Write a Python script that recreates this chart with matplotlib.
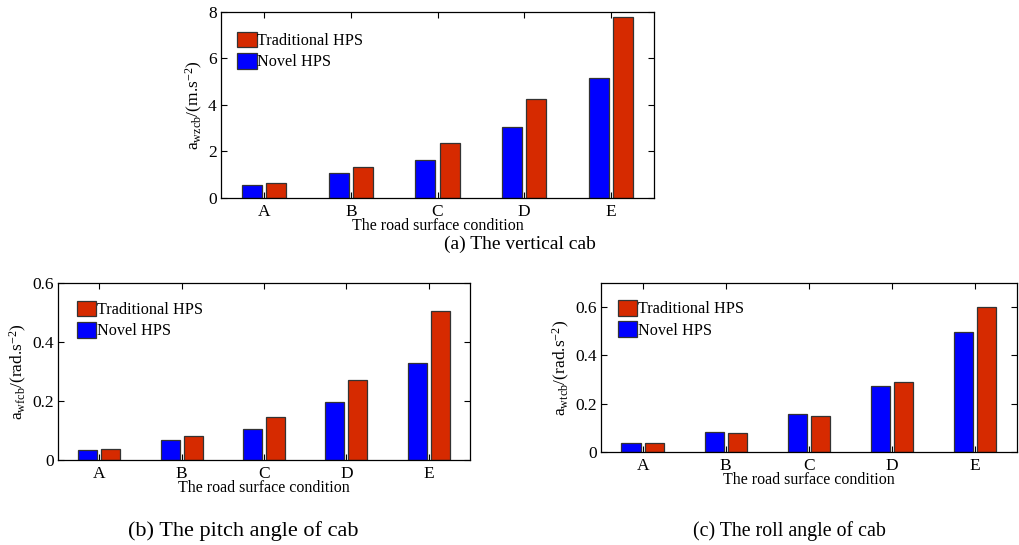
import numpy as np
import matplotlib
matplotlib.use("Agg")
import matplotlib.pyplot as plt

# === DATA ===
conditions = ["A", "B", "C", "D", "E"]
series_names = ["Traditional HPS", "Novel HPS"]

vertical_trad = [0.63, 1.32, 2.35, 4.25, 7.80]
vertical_novel = [0.54, 1.08, 1.63, 3.04, 5.18]

pitch_trad = [0.038, 0.080, 0.147, 0.272, 0.504]
pitch_novel = [0.034, 0.068, 0.106, 0.196, 0.329]

roll_trad = [0.038, 0.079, 0.148, 0.290, 0.601]
roll_novel = [0.039, 0.083, 0.159, 0.272, 0.496]

# === STYLE ===
plt.rcParams['font.family'] = ['Liberation Serif', 'DejaVu Serif']
plt.rcParams['mathtext.fontset'] = 'custom'
plt.rcParams['mathtext.rm'] = 'Liberation Serif'
plt.rcParams['mathtext.it'] = 'Liberation Serif:italic'
red = '#d62a00'
blue = '#0000ff'
edge = '#333333'
tick_fs = 12.5
leg_fs = 11.7
xl_fs = 11.5
yl_fs = 12.5


def draw(ax, trad, novel, ylim, yticks, yticklabels, ylabel, leg_x, leg_y):
    x = np.arange(1, len(conditions) + 1)
    w = 0.23
    ax.bar(x - 0.14, novel, w, color=blue, edgecolor=edge, linewidth=0.9,
           label=series_names[1])
    ax.bar(x + 0.14, trad, w, color=red, edgecolor=edge, linewidth=0.9,
           label=series_names[0])
    ax.set_xlim(0.5, 5.5)
    ax.set_ylim(*ylim)
    ax.set_xticks(x)
    ax.set_xticklabels(conditions, fontsize=tick_fs)
    ax.set_yticks(yticks)
    ax.set_yticklabels(yticklabels, fontsize=tick_fs)
    ax.tick_params(direction='in', top=True, right=True, length=4)
    ax.tick_params(axis='x', pad=4)
    ax.tick_params(axis='y', pad=3)
    ax.set_xlabel("The road surface condition", fontsize=xl_fs, labelpad=-1)
    ax.set_ylabel(ylabel, fontsize=yl_fs, labelpad=2)
    h, l = ax.get_legend_handles_labels()
    ax.legend(h[::-1], l[::-1], loc='upper left', bbox_to_anchor=(leg_x, leg_y),
              frameon=False, fontsize=leg_fs, handlelength=1.2, handleheight=1.1,
              handletextpad=0.05, labelspacing=0.25, borderpad=0, borderaxespad=0)
    for s in ax.spines.values():
        s.set_linewidth(0.9)


fig = plt.figure(figsize=(10.19, 5.45), dpi=100)

ax1 = fig.add_axes([0.2169, 0.6367, 0.4249, 0.3413])
draw(ax1, vertical_trad, vertical_novel, (0, 8), [0, 2, 4, 6, 8],
     ["0", "2", "4", "6", "8"], r"a$_{\rm wzcb}$/(m.s$^{-2}$)", 0.037, 0.895)

ax2 = fig.add_axes([0.0569, 0.156, 0.4043, 0.3248])
draw(ax2, pitch_trad, pitch_novel, (0, 0.6), [0, 0.2, 0.4, 0.6],
     ["0", "0.2", "0.4", "0.6"], r"a$_{\rm wfcb}$/(rad.s$^{-2}$)", 0.046, 0.9)

ax3 = fig.add_axes([0.5898, 0.1706, 0.408, 0.3101])
draw(ax3, roll_trad, roll_novel, (0, 0.7), [0, 0.2, 0.4, 0.6],
     ["0", "0.2", "0.4", "0.6"], r"a$_{\rm wtcb}$/(rad.s$^{-2}$)", 0.04, 0.9)

fig.text(520 / 1019, 1 - 244 / 545, "(a) The vertical cab", ha='center', va='center', fontsize=14)
fig.text(243 / 1019, 1 - 531 / 545, "(b) The pitch angle of cab", ha='center', va='center', fontsize=16)
fig.text(789 / 1019, 1 - 531 / 545, "(c) The roll angle of cab", ha='center', va='center', fontsize=14.3)

fig.savefig("out.png", dpi=100)
